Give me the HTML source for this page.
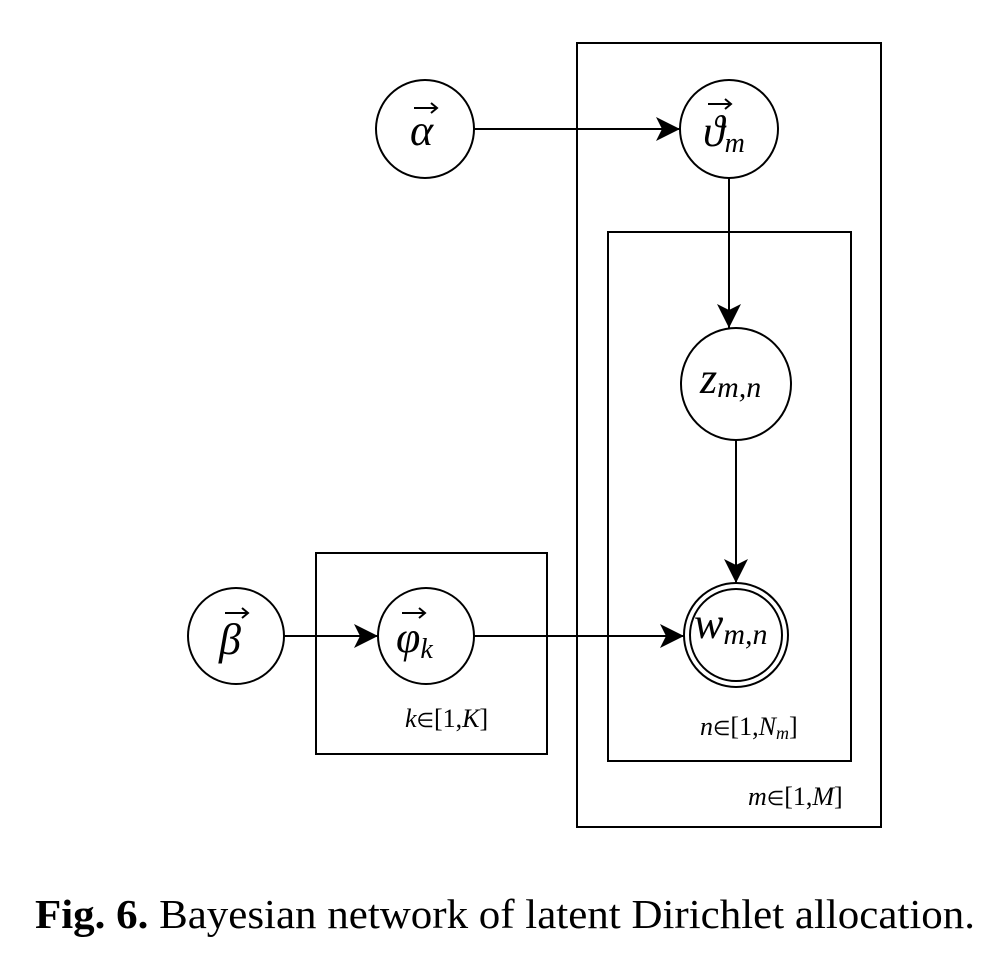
<!DOCTYPE html>
<html><head><meta charset="utf-8"><style>body{margin:0;background:#fff}</style></head>
<body>
<svg width="994" height="964" viewBox="0 0 994 964" xmlns="http://www.w3.org/2000/svg" font-family="Liberation Serif, serif">
<defs>
<marker id="a" markerWidth="26" markerHeight="24" refX="24" refY="12" orient="auto" markerUnits="userSpaceOnUse">
<path d="M0,0 L24,12 L0,24 L6,12 Z" fill="#000"/>
</marker>
</defs>
<g fill="none" stroke="#000" stroke-width="2">
<rect x="577" y="43" width="304" height="784"/>
<rect x="608" y="232" width="243" height="529"/>
<rect x="316" y="553" width="231" height="201"/>
<circle cx="425" cy="129" r="49" fill="#fff"/>
<circle cx="729" cy="129" r="49"/>
<ellipse cx="736" cy="384" rx="55" ry="56" fill="#fff"/>
<circle cx="736" cy="635" r="52" fill="#fff"/>
<circle cx="736" cy="635" r="46"/>
<circle cx="236" cy="636" r="48" fill="#fff"/>
<circle cx="426" cy="636" r="48"/>
<line x1="474" y1="129" x2="680" y2="129" marker-end="url(#a)"/>
<line x1="729" y1="178" x2="729" y2="328" marker-end="url(#a)"/>
<line x1="736" y1="440" x2="736" y2="583" marker-end="url(#a)"/>
<line x1="284" y1="636" x2="378" y2="636" marker-end="url(#a)"/>
<line x1="474" y1="636" x2="684" y2="636" marker-end="url(#a)"/>
</g>
<g font-style="italic" fill="#000">
<text x="410" y="145" font-size="44">α</text>
<text x="703" y="146" font-size="44">ϑ<tspan font-size="28" dy="6">m</tspan></text>
<text x="700" y="393" font-size="44">z<tspan font-size="30" dy="4">m,n</tspan></text>
<text x="694" y="638" font-size="44">w<tspan font-size="30" dy="6">m,n</tspan></text>
<text x="219" y="654" font-size="44">β</text>
<text x="396" y="652" font-size="44">φ<tspan font-size="28" dy="6">k</tspan></text>
<text x="405" y="727" font-size="26">k<tspan font-style="normal" font-size="20">∈</tspan><tspan font-style="normal">[1,</tspan>K<tspan font-style="normal">]</tspan></text>
<text x="700" y="735" font-size="26">n<tspan font-style="normal" font-size="20">∈</tspan><tspan font-style="normal">[1,</tspan>N<tspan font-size="18" dy="4">m</tspan><tspan dy="-4" font-style="normal">]</tspan></text>
<text x="748" y="805" font-size="26">m<tspan font-style="normal" font-size="20">∈</tspan><tspan font-style="normal">[1,</tspan>M<tspan font-style="normal">]</tspan></text>
</g>
<g stroke="#000" stroke-width="2" fill="none">
<path d="M414,108 L436,108 M431,103 L437,108 L431,113"/>
<path d="M708,104 L730,104 M725,99 L731,104 L725,109"/>
<path d="M225,613 L247,613 M242,608 L248,613 L242,618"/>
<path d="M402,613 L424,613 M419,608 L425,613 L419,618"/>
</g>
<text x="35" y="928" font-size="41" fill="#000" textLength="940" lengthAdjust="spacingAndGlyphs"><tspan font-weight="bold">Fig. 6.</tspan> Bayesian network of latent Dirichlet allocation.</text>
</svg>
</body></html>
